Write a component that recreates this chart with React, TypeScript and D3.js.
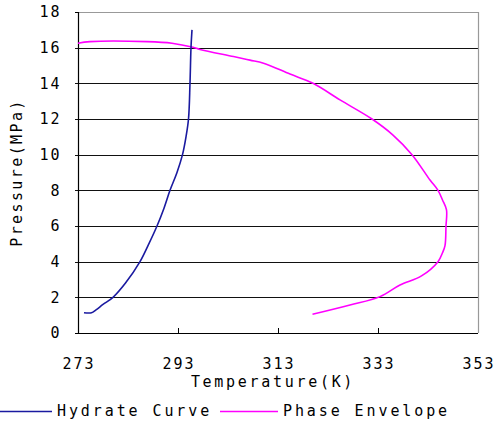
import React from "react";
import * as d3 from "d3";

const hydrateT = [274.2, 275.7, 276.6, 278.0, 280.0, 282.5, 285.4, 287.0, 288.8, 290.2, 291.4, 292.8, 293.9, 294.6, 295.1, 295.4, 295.6, 295.8];
const hydrateP = [1.14, 1.14, 1.3, 1.6, 2.0, 2.8, 4.0, 4.9, 6.0, 7.0, 8.0, 9.0, 10.0, 11.0, 12.0, 14.0, 16.0, 17.0];

const envelopeT = [273.0, 275.4, 286.8, 291.8, 296.0, 297.4, 304.1, 307.4, 310.1, 315.4, 320.0, 325.4, 331.8, 336.0, 339.8, 343.4, 345.0, 345.9, 346.7, 346.6, 346.4, 345.9, 345.0, 341.7, 337.4, 333.4, 327.4, 319.9];
const envelopeP = [16.25, 16.34, 16.34, 16.25, 16.02, 15.9, 15.5, 15.3, 15.13, 14.52, 14.0, 13.07, 12.0, 11.1, 10.0, 8.58, 8.0, 7.46, 6.9, 6.0, 4.9, 4.5, 4.0, 3.2, 2.69, 2.04, 1.57, 1.05];

const xTicks = [273, 293, 313, 333, 353];
const yTicks = [0, 2, 4, 6, 8, 10, 12, 14, 16, 18];

const W = 495, H = 448;
const left = 78, right = 478, top = 12, bottom = 333;
const font = "DejaVu Sans Mono";

export default function App() {
  const x = d3.scaleLinear().domain([273, 353]).range([left, right]);
  const y = d3.scaleLinear().domain([0, 18]).range([bottom, top]);
  const line = d3.line<[number, number]>().x(d => x(d[0])).y(d => y(d[1])).curve(d3.curveCatmullRom.alpha(0.5));
  const hyd = hydrateT.map((t, i) => [t, hydrateP[i]] as [number, number]);
  const env = envelopeT.map((t, i) => [t, envelopeP[i]] as [number, number]);
  return (
    <div style={{ position: "absolute", left: 0, top: 0 }}>
      <svg width={W} height={H} style={{ display: "block", background: "#fff" }}>
        {yTicks.filter(v => v > 0 && v < 18).map(v => (
          <line key={v} x1={left - 3} x2={right} y1={Math.round(y(v)) + 0.5} y2={Math.round(y(v)) + 0.5} stroke="#111" strokeWidth={1.2} />
        ))}
        <line x1={left} x2={right} y1={top + 0.5} y2={top + 0.5} stroke="#999" strokeWidth={1.2} />
        <line x1={right + 0.5} x2={right + 0.5} y1={top} y2={bottom} stroke="#999" strokeWidth={1.2} />
        <line x1={left + 0.5} x2={left + 0.5} y1={top} y2={bottom} stroke="#000" strokeWidth={1.2} />
        <line x1={left - 3} x2={left} y1={top + 0.5} y2={top + 0.5} stroke="#000" strokeWidth={1} />
        <line x1={left - 3} x2={right} y1={bottom + 0.5} y2={bottom + 0.5} stroke="#000" strokeWidth={1.2} />
        {xTicks.slice(1, -1).map(v => (
          <line key={v} x1={Math.round(x(v)) + 0.5} x2={Math.round(x(v)) + 0.5} y1={bottom - 5} y2={bottom} stroke="#000" strokeWidth={1} />
        ))}
        <path d={line(env) || ""} fill="none" stroke="#ff00ff" strokeWidth={1.6} />
        <path d={line(hyd) || ""} fill="none" stroke="#1a1aa0" strokeWidth={1.6} />
        {yTicks.map(v => (
          <text key={v} x={61.5} y={y(v)} dy="0.36em" textAnchor="end" fontFamily={font} fontSize={15} letterSpacing={2}>{v}</text>
        ))}
        {xTicks.map(v => (
          <text key={v} x={x(v) + 1} y={364} dy="0.36em" textAnchor="middle" fontFamily={font} fontSize={15} letterSpacing={2}>{v}</text>
        ))}
        <text x={273} y={382} dy="0.36em" textAnchor="middle" fontFamily={font} fontSize={15} letterSpacing={2.7}>Temperature(K)</text>
        <text transform={`translate(17,${(top + bottom) / 2}) rotate(-90)`} dy="0.36em" textAnchor="middle" fontFamily={font} fontSize={15} letterSpacing={2.4}>Pressure(MPa)</text>
        <line x1={0} x2={52} y1={411.5} y2={411.5} stroke="#1a1aa0" strokeWidth={1.6} />
        <text x={57} y={411} dy="0.36em" fontFamily={font} fontSize={15} letterSpacing={2.9}>Hydrate Curve</text>
        <line x1={220} x2={278} y1={411.5} y2={411.5} stroke="#ff00ff" strokeWidth={1.6} />
        <text x={283} y={411} dy="0.36em" fontFamily={font} fontSize={15} letterSpacing={2.9}>Phase Envelope</text>
      </svg>
    </div>
  );
}
